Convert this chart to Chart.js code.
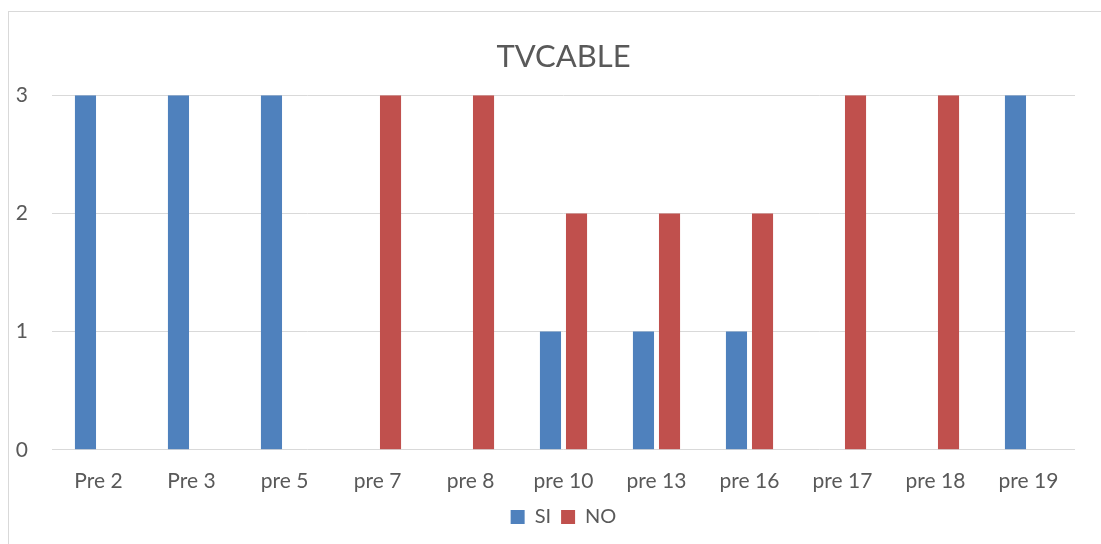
<!DOCTYPE html>
<html>
<head>
<meta charset="utf-8">
<script src="https://cdn.jsdelivr.net/npm/chart.js@4/dist/chart.umd.min.js"></script>
<style>
  html, body { margin: 0; padding: 0; background: #fff; }
  #wrap { position: relative; width: 1101px; height: 544px; overflow: hidden; }
  #frame { position: absolute; left: 8px; top: 11px; width: 1110px; height: 560px; border: 1px solid #d9d9d9; box-sizing: border-box; }
  canvas { position: absolute; left: 0; top: 0; }
</style>
</head>
<body>
<div id="wrap">
  <div id="frame"></div>
  <canvas id="tvChart" width="1101" height="544"></canvas>
</div>
<script>
// --- data ---
const categories = ['Pre 2', 'Pre 3', 'pre 5', 'pre 7', 'pre 8', 'pre 10', 'pre 13', 'pre 16', 'pre 17', 'pre 18', 'pre 19'];
const siValues = [3, 3, 3, 0, 0, 1, 1, 1, 0, 0, 3];
const noValues = [0, 0, 0, 3, 3, 2, 2, 2, 3, 3, 0];
const yTicks = [0, 1, 2, 3];

const textColor = '#595959';
const fontFamily = 'Lato, "Liberation Sans", sans-serif';

const config = {
    type: 'bar',
    data: {
        labels: categories,
        datasets: [
            {
                label: 'SI',
                data: siValues,
                backgroundColor: '#4F81BD',
                categoryPercentage: 0.56,
                barPercentage: 0.81
            },
            {
                label: 'NO',
                data: noValues,
                backgroundColor: '#C0504D',
                categoryPercentage: 0.56,
                barPercentage: 0.81
            }
        ]
    },
    options: {
        responsive: false,
        animation: false,
        layout: {
            padding: { left: 0, right: 26, top: 0, bottom: 7 }
        },
        plugins: {
            title: {
                display: true,
                fullSize: false,
                text: 'TVCABLE',
                color: textColor,
                font: { family: fontFamily, size: 31, weight: 'normal' },
                padding: { top: 38, bottom: 20 }
            },
            legend: {
                display: true,
                fullSize: false,
                position: 'bottom',
                labels: {
                    color: textColor,
                    font: { family: fontFamily, size: 20 },
                    boxWidth: 14,
                    boxHeight: 14,
                    padding: 10
                }
            },
            tooltip: { enabled: false }
        },
        scales: {
            y: {
                min: 0,
                max: 3,
                afterFit: function(scale) { scale.width = 52; },
                afterBuildTicks: function(scale) {
                    scale.ticks = yTicks.map(v => ({ value: v }));
                },
                ticks: {
                    color: textColor,
                    font: { family: fontFamily, size: 21 },
                    padding: 24
                },
                grid: {
                    color: '#d9d9d9',
                    lineWidth: 1,
                    drawTicks: false
                },
                border: { display: false }
            },
            x: {
                // labels sit closer to the legend than the default box allows
                afterFit: function(scale) { scale.height -= 16; },
                grid: { display: false, drawTicks: false },
                border: { display: false },
                ticks: {
                    color: textColor,
                    font: { family: fontFamily, size: 21 },
                    padding: 19,
                    maxRotation: 0
                }
            }
        }
    }
};

new Chart(document.getElementById('tvChart'), config);
</script>
</body>
</html>
